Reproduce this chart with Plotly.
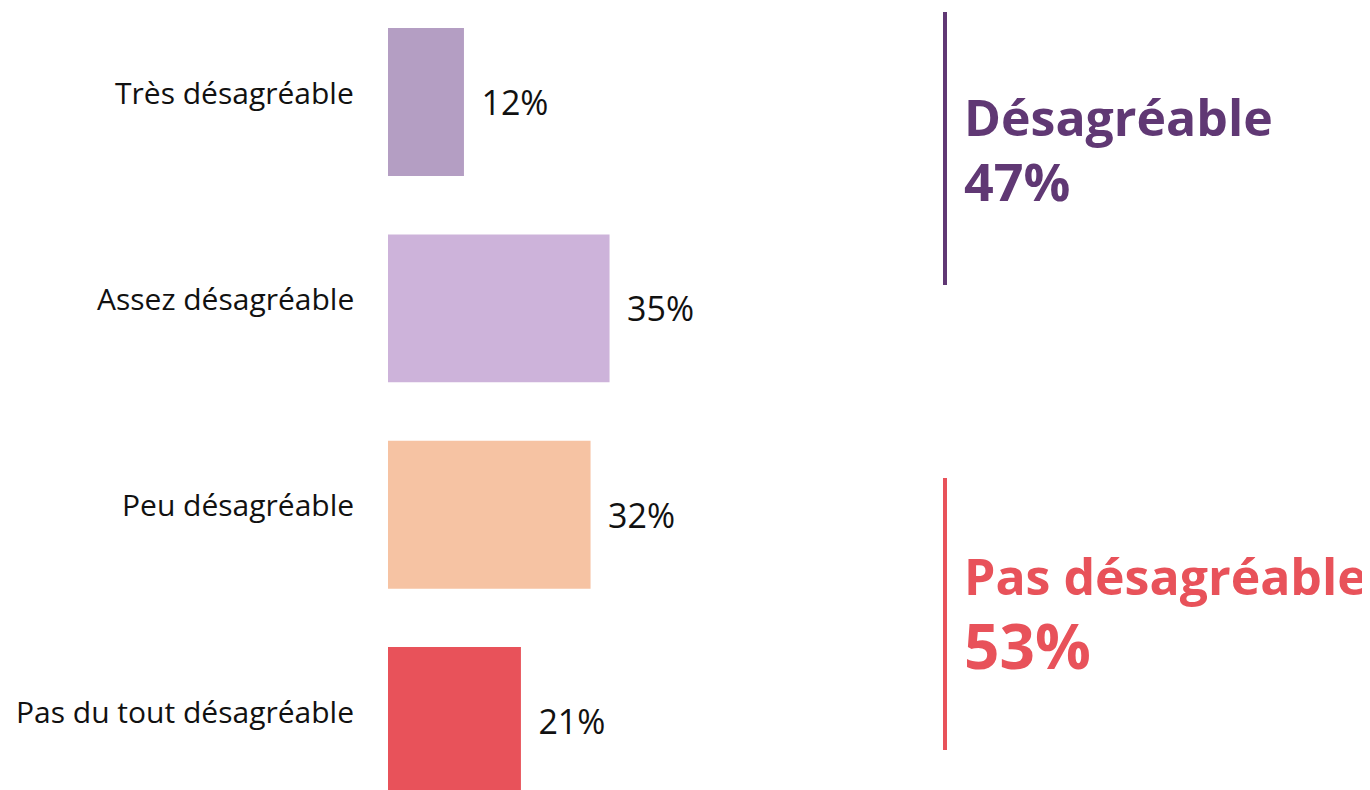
import plotly.graph_objects as go

# --------------------------------------------------------
# data
# --------------------------------------------------------
categories = ["Très désagréable", "Assez désagréable", "Peu désagréable", "Pas du tout désagréable"]
values = [12, 35, 32, 21]
bar_colors = ["#B49EC3", "#CDB3DA", "#F6C3A3", "#E8525A"]

group_labels = ["Désagréable", "Pas désagréable"]
group_values = [47, 53]
group_colors = ["#603874", "#E8525A"]

FONT = "Open Sans"

fig = go.Figure()
fig.add_trace(go.Bar(
    x=values, y=categories, orientation="h",
    marker=dict(color=bar_colors, line=dict(width=0)),
    text=values, texttemplate="\u00a0\u2009%{x}%", textposition="outside",
    textfont=dict(family=FONT, size=34, color="#111111"),
    cliponaxis=False, hoverinfo="skip",
))

# category labels sit a little above the bar centre
for cat in categories:
    fig.add_annotation(
        x=0, y=cat, xref="x", yref="y", xanchor="right", yanchor="middle",
        xshift=-32, yshift=10, showarrow=False, text=cat,
        font=dict(family=FONT, size=30, color="#111111"),
    )

# group brackets: vertical line + big label (positions in figure pixels)
W, H = 1370, 790
left = 380
pw = W - left

def px_x(p):
    return (p - left) / pw

def px_y(p):
    return 1 - p / H

spans = [(4, 277), (470, 742)]
label_y = [109, 568]
value_y = [172, 637]
value_size = [52, 62]
for i, col in enumerate(group_colors):
    top, bot = spans[i]
    fig.add_shape(type="line", xref="paper", yref="paper",
                  x0=px_x(937), x1=px_x(937), y0=px_y(top), y1=px_y(bot),
                  line=dict(color=col, width=4))
    fig.add_annotation(
        xref="paper", yref="paper", x=px_x(954), y=px_y(label_y[i]),
        xanchor="left", yanchor="middle", showarrow=False,
        text=f"<b>{group_labels[i]}</b>",
        font=dict(family=FONT, size=50, color=col),
    )
    fig.add_annotation(
        xref="paper", yref="paper", x=px_x(954), y=px_y(value_y[i]),
        xanchor="left", yanchor="middle", showarrow=False,
        text=f"<b>{group_values[i]}%</b>",
        font=dict(family=FONT, size=value_size[i], color=col),
    )

fig.update_layout(
    width=W, height=H,
    margin=dict(l=left, r=0, t=0, b=0),
    paper_bgcolor="white", plot_bgcolor="white",
    showlegend=False, bargap=0.283,
    xaxis=dict(range=[0, 156.4], visible=False),
    yaxis=dict(
        categoryorder="array", categoryarray=categories,
        range=[3.373, -0.456], showgrid=False, zeroline=False, showline=False,
        ticks="", showticklabels=False,
    ),
)

fig.write_html("out.html")
